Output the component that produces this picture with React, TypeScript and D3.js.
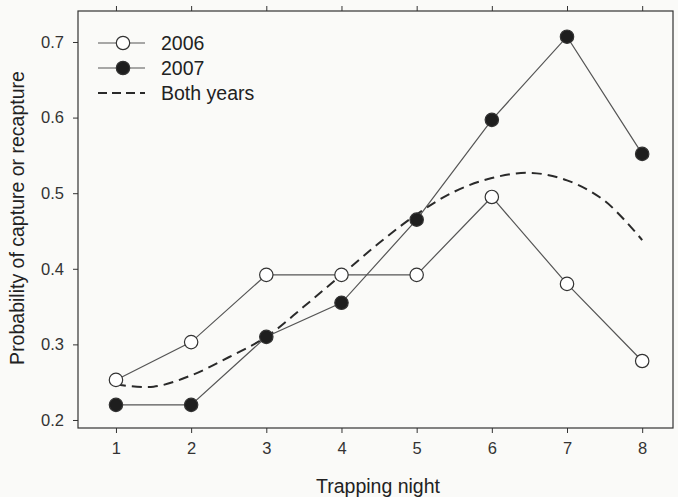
import React, { useEffect, useRef } from "react";
import * as d3 from "d3";

const nights = [1, 2, 3, 4, 5, 6, 7, 8];
const values2006 = [0.253, 0.303, 0.392, 0.392, 0.392, 0.495, 0.38, 0.278];
const values2007 = [0.22, 0.22, 0.31, 0.355, 0.465, 0.597, 0.707, 0.552];
// fitted curve for both years at half-night steps
const fitNights = [1, 1.5, 2, 2.5, 3, 3.5, 4, 4.5, 5, 5.5, 6, 6.5, 7, 7.5, 8];
const fitValues = [0.247, 0.244, 0.259, 0.283, 0.31, 0.35, 0.392, 0.434, 0.472, 0.502, 0.52, 0.527, 0.517, 0.49, 0.438];
const yTicks = [0.2, 0.3, 0.4, 0.5, 0.6, 0.7];

const App = () => {
  const ref = useRef<SVGSVGElement>(null);

  useEffect(() => {
    const width = 678;
    const height = 497;
    const left = 78;
    const right = 673;
    const top = 11;
    const bottom = 428;
    const font = "Liberation Sans, Arial, sans-serif";
    const lineColor = "#555";
    const dark = "#1e1e1e";

    const svg = d3.select(ref.current).attr("width", width).attr("height", height);
    svg.selectAll("*").remove();

    svg.append("rect").attr("width", width).attr("height", height).attr("fill", "#fafaf8");

    const x = d3.scaleLinear().domain([0.495, 8.41]).range([left, right]);
    const y = d3.scaleLinear().domain([0.1894, 0.741]).range([bottom, top]);

    // frame
    svg
      .append("rect")
      .attr("x", left)
      .attr("y", top)
      .attr("width", right - left)
      .attr("height", bottom - top)
      .attr("fill", "none")
      .attr("stroke", "#333")
      .attr("stroke-width", 1.2);

    const xAxis = svg
      .append("g")
      .attr("transform", `translate(0,${bottom})`)
      .call(d3.axisBottom(x).tickValues(nights).tickSize(5).tickPadding(9).tickFormat(d3.format("d")));
    const xTop = svg
      .append("g")
      .attr("transform", `translate(0,${top})`)
      .call(d3.axisTop(x).tickValues(nights).tickSize(5).tickFormat(() => ""));
    const yAxis = svg
      .append("g")
      .attr("transform", `translate(${left},0)`)
      .call(d3.axisLeft(y).tickValues(yTicks).tickSize(5).tickPadding(9).tickFormat(d3.format(".1f")));

    [xAxis, xTop, yAxis].forEach((g) => {
      g.select(".domain").remove();
      g.selectAll("line").attr("stroke", "#333");
      g.selectAll("text").attr("font-family", font).attr("font-size", 16.5).attr("fill", "#333");
    });

    svg
      .append("text")
      .attr("x", 378)
      .attr("y", 493)
      .attr("text-anchor", "middle")
      .attr("font-family", font)
      .attr("font-size", 19.5)
      .attr("fill", "#222")
      .text("Trapping night");

    svg
      .append("text")
      .attr("transform", `translate(24,218) rotate(-90)`)
      .attr("text-anchor", "middle")
      .attr("font-family", font)
      .attr("font-size", 19.5)
      .attr("fill", "#222")
      .text("Probability of capture or recapture");

    // fitted dashed curve
    const fit = d3
      .line<number>()
      .x((d, i) => x(fitNights[i]))
      .y((d) => y(d))
      .curve(d3.curveCatmullRom);
    svg
      .append("path")
      .attr("d", fit(fitValues))
      .attr("fill", "none")
      .attr("stroke", "#2a2a2a")
      .attr("stroke-width", 2)
      .attr("stroke-dasharray", "10,6");

    const line = d3
      .line<number>()
      .x((d, i) => x(nights[i]))
      .y((d) => y(d));

    const series = [
      { values: values2006, fill: "#fff" },
      { values: values2007, fill: dark },
    ];

    series.forEach((s) => {
      svg
        .append("path")
        .attr("d", line(s.values))
        .attr("fill", "none")
        .attr("stroke", lineColor)
        .attr("stroke-width", 1.2);
      svg
        .append("g")
        .selectAll("circle")
        .data(s.values)
        .join("circle")
        .attr("cx", (d, i) => x(nights[i]))
        .attr("cy", (d) => y(d))
        .attr("r", 6.7)
        .attr("fill", s.fill)
        .attr("stroke", "#333")
        .attr("stroke-width", 1.2);
    });

    // legend
    const legend = svg.append("g").attr("transform", "translate(98,43)");
    const items = [
      { label: "2006", fill: "#fff", dashed: false },
      { label: "2007", fill: dark, dashed: false },
      { label: "Both years", fill: null, dashed: true },
    ];
    items.forEach((it, i) => {
      const g = legend.append("g").attr("transform", `translate(0,${i * 25})`);
      g.append("line")
        .attr("x1", 0)
        .attr("x2", 47)
        .attr("stroke", it.dashed ? "#2a2a2a" : lineColor)
        .attr("stroke-width", it.dashed ? 2 : 1.2)
        .attr("stroke-dasharray", it.dashed ? "9,5" : null);
      if (it.fill) {
        g.append("circle").attr("cx", 25).attr("r", 6.7).attr("fill", it.fill).attr("stroke", "#333").attr("stroke-width", 1.2);
      }
      g.append("text")
        .attr("x", 63)
        .attr("y", 7)
        .attr("font-family", font)
        .attr("font-size", 19.5)
        .attr("fill", "#222")
        .text(it.label);
    });
  }, []);

  return <svg ref={ref} style={{ position: "absolute", left: 0, top: 0 }}></svg>;
};

export default App;
